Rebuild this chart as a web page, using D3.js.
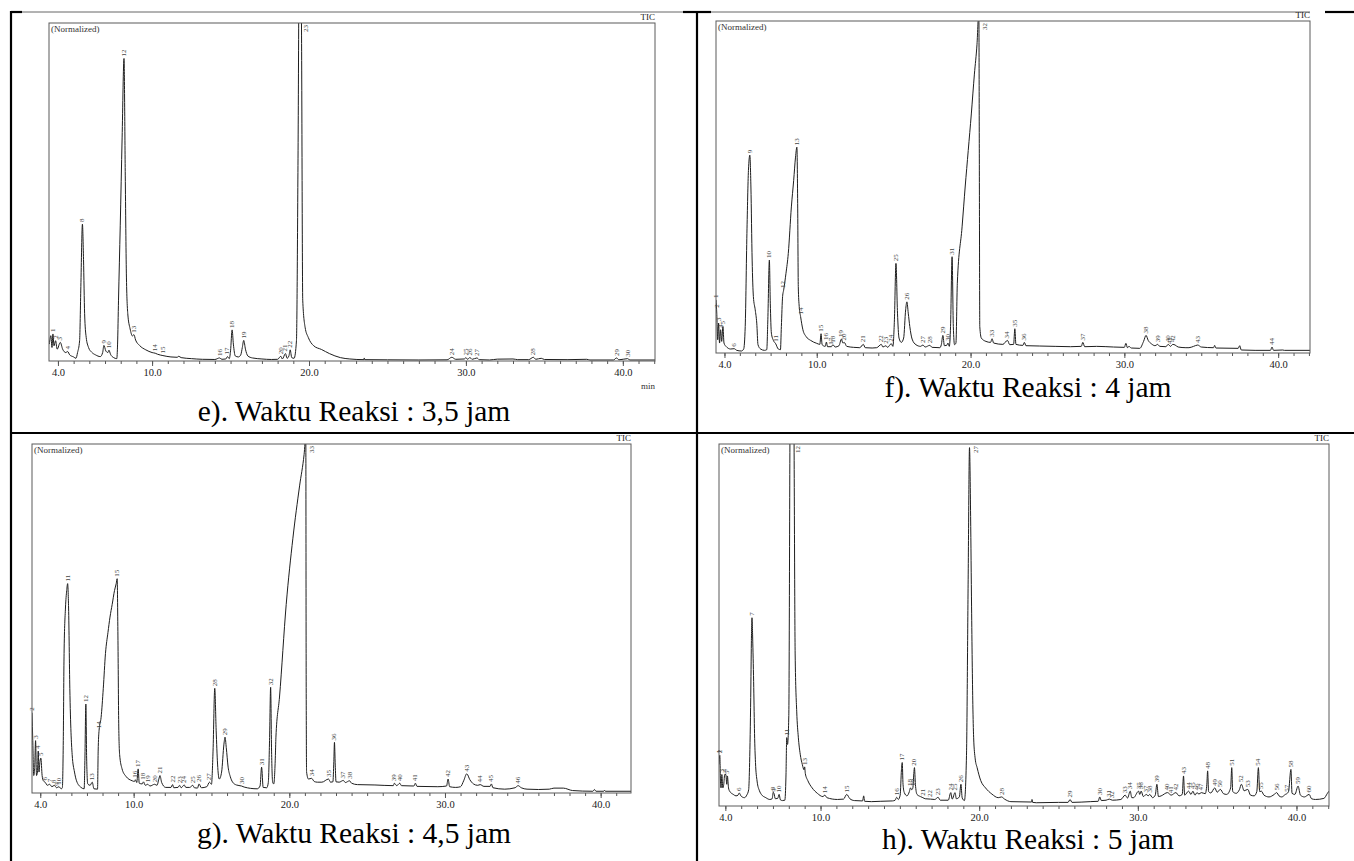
<!DOCTYPE html>
<html>
<head>
<meta charset="utf-8">
<script src="https://cdn.jsdelivr.net/npm/d3@7/dist/d3.min.js"></script>
<style>
body { margin: 0; background: #fff; }
text { font-family: "Liberation Serif", "Times New Roman", serif; }
</style>
</head>
<body>
<script>

// ---- data ----
var tickValues = [4, 10, 20, 30, 40];
var tickLabels = ["4.0", "10.0", "20.0", "30.0", "40.0"];
var captions = ["e). Waktu Reaksi : 3,5 jam", "f). Waktu Reaksi : 4 jam",
                "g). Waktu Reaksi : 4,5 jam", "h). Waktu Reaksi : 5 jam"];

// [retention time (min), normalized intensity %]
var traceE = [[3.45,5],[3.55,7.5],[3.62,4],[3.68,8],[3.75,4.5],[3.85,6],[3.95,3.5],[4.15,5.5],[4.3,3.5],[4.5,2.5],[4.62,2.8],[4.75,1.8],[5.0,1.2],[5.15,0.8],[5.25,2.5],[5.38,6],[5.46,22],[5.56,40.5],[5.63,30],[5.7,14],[5.8,7],[5.95,4],[6.15,2.6],[6.4,1.8],[6.7,1.3],[6.85,2.5],[6.93,4.6],[7.05,3],[7.18,2.5],[7.25,3.2],[7.35,2],[7.55,1],[7.75,0.7],[7.8,5],[7.86,18],[7.97,40],[8.09,66],[8.21,89.5],[8.29,55],[8.36,26],[8.45,14],[8.6,9.5],[8.75,7.4],[8.84,7.8],[8.95,6.2],[9.2,4.6],[9.6,3.3],[10.0,2.5],[10.2,2.3],[10.35,2.0],[10.69,1.6],[11.2,1.2],[11.6,1.1],[11.7,1.4],[11.85,1.0],[12.5,0.7],[13.2,0.5],[14.0,0.45],[14.3,0.9],[14.45,0.5],[14.7,0.6],[14.8,1.3],[14.92,0.7],[15.0,3],[15.1,9.2],[15.18,5],[15.3,1.5],[15.5,1.2],[15.65,1.8],[15.75,4],[15.84,6.1],[15.95,3.5],[16.1,1.5],[16.4,0.9],[17.0,0.6],[17.6,0.45],[18.0,0.5],[18.2,1.4],[18.3,0.6],[18.5,2.2],[18.6,0.8],[18.72,1.5],[18.8,3.3],[18.9,1.0],[19.05,0.8],[19.2,6],[19.3,60],[19.4,140],[19.52,100],[19.6,18],[19.75,10],[19.95,7],[20.3,4.5],[20.8,3.4],[21.3,2.2],[22.0,1.0],[22.6,0.6],[23.5,0.4],[23.52,0.9],[23.55,0.4],[25.0,0.35],[27.0,0.3],[28.8,0.35],[29.1,1.1],[29.35,0.5],[29.9,0.6],[30.0,1.0],[30.1,0.5],[30.25,1.0],[30.4,0.5],[30.7,0.9],[30.85,0.4],[31.5,0.3],[32.0,0.55],[33.0,0.6],[33.3,0.4],[34.0,0.4],[34.3,1.1],[34.45,0.5],[34.8,0.8],[35.0,0.45],[36.5,0.4],[37.7,0.5],[37.9,0.3],[39.4,0.3],[39.6,0.9],[39.75,0.35],[40.3,0.7],[40.45,0.3],[42.05,0.3]];

// [peak number, retention time, apex %]
var peaksE = [["1",3.68,8],["2",3.85,6],["3",4.15,5.5],["4",4.62,2.8],["8",5.56,40.5],["9",6.93,4.6],["10",7.25,3.2],["12",8.21,89.5],["13",8.84,7.8],["14",10.2,2.3],["15",10.69,1.6],["16",14.3,0.9],["17",14.8,1.3],["18",15.1,9.2],["19",15.84,6.1],["20",18.2,1.4],["21",18.5,2.2],["22",18.8,3.3],["23",19.4,140],["24",29.1,1.1],["25",30.0,1.0],["26",30.25,1.0],["27",30.7,0.9],["28",34.3,1.1],["29",39.6,0.9],["30",40.3,0.7]];

var traceF = [[3.45,16],[3.5,12],[3.56,4],[3.62,9],[3.68,3],[3.75,7],[3.82,3.5],[3.9,8],[3.97,3],[4.1,2],[4.4,1.2],[4.63,1.3],[4.8,0.8],[5.1,0.6],[5.25,1.2],[5.35,8],[5.46,36],[5.56,55],[5.65,59.6],[5.72,50],[5.8,28],[5.88,17],[6.0,13],[6.1,9],[6.18,2.5],[6.35,1.2],[6.6,0.8],[6.75,1.0],[6.82,10],[6.92,28],[6.98,15],[7.05,6],[7.18,3.8],[7.33,2.8],[7.5,1.2],[7.64,1.0],[7.7,8],[7.78,17],[7.85,19],[8.0,24],[8.15,30],[8.35,44],[8.5,52],[8.62,59],[8.71,62],[8.76,45],[8.8,20],[8.86,14],[8.95,11],[9.1,7],[9.3,5],[9.6,3.8],[10.0,2.9],[10.2,2.6],[10.28,5.8],[10.35,2.5],[10.55,2.0],[10.63,3.3],[10.7,1.9],[10.95,1.9],[11.05,2.5],[11.2,1.8],[11.45,2.2],[11.6,4.2],[11.7,3.0],[11.79,3.2],[11.95,2.0],[12.4,1.7],[12.8,1.6],[13.03,2.6],[13.15,1.6],[13.6,1.5],[13.9,1.6],[14.2,2.6],[14.3,1.8],[14.5,2.2],[14.6,1.7],[14.85,2.8],[14.95,2.0],[15.05,10],[15.15,27],[15.25,12],[15.35,4.5],[15.5,3.2],[15.65,4.5],[15.78,13],[15.86,15.4],[15.95,12],[16.05,8],[16.2,4.2],[16.45,2.5],[16.75,2.0],[16.9,2.4],[17.05,1.8],[17.35,2.3],[17.5,1.7],[18.0,1.6],[18.1,2.5],[18.2,5.3],[18.3,2.2],[18.45,2.3],[18.53,3.0],[18.62,2.0],[18.7,8],[18.8,29],[18.88,8],[18.96,2.5],[19.05,3],[19.14,21],[19.45,38],[19.65,50],[19.85,61],[20.05,72],[20.25,84],[20.42,93],[20.54,103],[20.57,60],[20.6,8],[20.7,4.5],[21.0,3.5],[21.3,3.2],[21.4,4.3],[21.5,3.0],[22.1,2.6],[22.4,3.8],[22.55,2.5],[22.8,2.6],[22.88,7.3],[22.95,2.6],[23.4,2.3],[23.5,3.2],[23.6,2.2],[24.5,2.1],[25.5,2.0],[26.5,1.9],[27.2,2.0],[27.3,3.2],[27.42,1.9],[28.2,2.0],[29.3,1.8],[30.0,1.7],[30.1,2.9],[30.2,1.6],[30.3,2.0],[30.45,1.5],[31.0,1.4],[31.25,3.5],[31.41,5.3],[31.55,3.8],[31.75,2.8],[32.0,2.2],[32.16,2.6],[32.3,2.0],[32.7,1.9],[32.85,2.6],[33.0,2.0],[33.15,2.6],[33.3,2.4],[33.5,1.8],[34.0,1.6],[34.2,1.6],[34.5,2.0],[34.77,2.4],[35.0,1.8],[35.8,1.6],[35.87,2.3],[35.95,1.5],[37.4,1.4],[37.5,2.2],[37.6,0.9],[38.5,0.8],[39.5,0.8],[39.6,1.8],[39.7,0.8],[40.3,0.9],[40.4,0.8],[42.07,0.8]];

var peaksF = [["1",3.46,16],["2",3.52,13],["3",3.62,9],["4",3.75,7],["5",3.9,8],["6",4.63,1.3],["9",5.65,59.6],["10",6.92,28],["11",7.33,2.8],["12",7.8,19],["13",8.71,62],["14",8.95,11],["15",10.28,5.8],["16",10.63,3.3],["17",10.95,1.9],["18",11.05,2.5],["19",11.6,4.2],["20",11.79,3.2],["21",13.03,2.6],["22",14.2,2.6],["23",14.5,2.2],["24",14.85,2.8],["25",15.15,27],["26",15.86,15.4],["27",16.9,2.4],["28",17.35,2.3],["29",18.2,5.3],["30",18.53,3.0],["31",18.8,29],["32",20.54,103],["33",21.4,4.3],["34",22.4,3.8],["35",22.88,7.3],["36",23.5,3.2],["37",27.3,3.2],["38",31.41,5.3],["39",32.16,2.6],["40",32.85,2.6],["41",33.0,2.0],["42",33.15,2.6],["43",34.77,2.4],["44",39.6,1.8]];

var traceG = [[3.47,23],[3.52,15],[3.58,5],[3.64,7],[3.7,15],[3.76,5],[3.82,6],[3.87,12],[3.92,6],[3.98,9],[4.04,10],[4.12,5],[4.2,3.5],[4.33,3.0],[4.45,2.2],[4.6,2.5],[4.75,1.8],[4.9,2.2],[5.05,1.5],[5.2,1.8],[5.35,1.2],[5.42,1.5],[5.48,15],[5.53,40],[5.62,53],[5.7,58],[5.76,60],[5.82,53],[5.9,30],[6.05,11],[6.2,6],[6.33,3.5],[6.62,1.6],[6.82,1.2],[6.87,10],[6.93,25.5],[6.98,10],[7.05,2.6],[7.2,2.2],[7.34,3.1],[7.45,1.2],[7.68,1.1],[7.72,12],[7.78,18],[7.91,21.7],[8.05,30],[8.19,40],[8.35,46],[8.48,50.4],[8.62,54],[8.77,58],[8.88,60],[8.94,61.4],[8.99,45],[9.04,20],[9.1,11],[9.25,7],[9.5,4.8],[9.91,3.5],[10.05,3.3],[10.11,3.8],[10.2,3.0],[10.29,6.9],[10.36,2.8],[10.55,2.6],[10.63,3.2],[10.75,2.2],[10.9,2.5],[11.05,2.0],[11.35,2.5],[11.5,2.2],[11.62,4],[11.69,5],[11.8,3],[12.06,1.6],[12.4,1.6],[12.5,2.4],[12.58,1.5],[12.85,1.6],[12.95,2.2],[13.05,1.5],[13.25,2.3],[13.35,1.6],[13.6,1.6],[13.8,2.2],[13.9,1.5],[14.1,1.4],[14.2,2.6],[14.35,1.5],[14.7,1.8],[14.87,3.1],[15.0,2.5],[15.1,12],[15.21,30],[15.3,18],[15.39,8.3],[15.5,4],[15.65,6],[15.8,14],[15.87,16],[15.95,13],[16.07,7.4],[16.2,4.8],[16.36,3.1],[16.6,2.3],[16.93,2.0],[17.1,1.7],[17.94,1.2],[18.12,2],[18.22,7.4],[18.32,1.6],[18.55,1.5],[18.65,3],[18.73,15],[18.8,30.3],[18.86,12],[18.93,3.1],[19.0,2.6],[19.1,10],[19.14,16],[19.37,27.5],[19.8,54],[20.23,73],[20.66,88],[20.95,97],[21.06,102],[21.08,40],[21.11,6],[21.23,4],[21.43,4.2],[21.6,3.3],[21.8,3.1],[22.09,3.1],[22.52,4.0],[22.65,3.1],[22.8,3.2],[22.86,9],[22.9,14.5],[22.95,8],[23.0,3.2],[23.2,3.1],[23.47,3.6],[23.6,3.0],[23.87,3.5],[24.0,2.8],[24.38,2.4],[25.5,2.3],[26.68,2.1],[26.75,2.8],[26.9,2.1],[27.1,2.8],[27.2,2.1],[28.0,2.0],[28.1,2.8],[28.2,1.9],[29.54,1.8],[30.1,2.0],[30.2,4],[30.3,1.8],[30.69,1.6],[31.0,1.8],[31.2,3.5],[31.4,5.5],[31.6,3.8],[31.83,2.6],[32.1,2.2],[32.26,2.4],[32.5,1.9],[32.9,1.9],[32.98,2.6],[33.08,1.5],[33.84,1.1],[34.5,1.5],[34.7,2.1],[34.9,1.5],[35.27,1.1],[36.0,1.0],[36.7,1.1],[37.0,1.4],[37.6,1.4],[38.2,0.7],[39.5,0.5],[39.6,1.0],[39.7,0.5],[40.2,0.5],[40.25,0.8],[40.3,0.5],[41.95,0.5]];

var peaksG = [["2",3.5,23],["3",3.7,15],["4",3.87,12],["5",4.04,10],["6",4.33,3.0],["7",4.6,2.5],["8",4.9,2.2],["9",5.05,1.5],["10",5.2,1.8],["11",5.76,60],["12",6.93,25.5],["13",7.34,3.1],["14",7.78,18],["15",8.94,61.4],["16",10.11,3.8],["17",10.29,6.9],["18",10.63,3.2],["19",10.9,2.5],["20",11.35,2.5],["21",11.69,5],["22",12.5,2.4],["23",12.95,2.2],["24",13.25,2.3],["25",13.8,2.2],["26",14.2,2.6],["27",14.87,3.1],["28",15.21,30],["29",15.87,16],["30",16.93,2.0],["31",18.22,7.4],["32",18.8,30.3],["33",21.06,102],["34",21.43,4.2],["35",22.52,4.0],["36",22.9,14.5],["37",23.47,3.6],["38",23.87,3.5],["39",26.75,2.8],["40",27.1,2.8],["41",28.1,2.8],["42",30.2,4],["43",31.4,5.5],["44",32.26,2.4],["45",32.98,2.6],["46",34.7,2.1]];

var traceH = [[3.6,11.5],[3.65,14],[3.7,6],[3.73,5],[3.78,8.7],[3.84,5],[3.9,6],[3.96,8.7],[4.03,8.7],[4.09,6],[4.13,8.3],[4.2,5],[4.27,4.1],[4.5,3.2],[4.67,2.8],[4.8,3.0],[4.88,3.6],[4.98,2.8],[5.2,2.3],[5.35,3.0],[5.47,4.5],[5.53,12],[5.6,30],[5.64,45],[5.68,52],[5.73,45],[5.79,32.7],[5.84,20],[5.9,12],[6.0,6.9],[6.15,4.2],[6.27,3.2],[6.55,2.3],[6.8,1.8],[6.95,2.0],[7.02,3.8],[7.07,3.4],[7.15,2.0],[7.3,2.1],[7.39,3.2],[7.47,1.7],[7.6,1.5],[7.75,1.6],[7.82,8],[7.87,18.9],[7.92,17],[8.0,25],[8.08,110],[8.2,160],[8.32,110],[8.4,42],[8.5,26],[8.6,19],[8.72,14.3],[8.85,11.5],[8.96,10],[9.0,10.8],[9.04,9.0],[9.2,7],[9.47,5],[9.8,3.5],[10.15,2.6],[10.27,3.0],[10.4,2.3],[11.07,1.8],[11.45,1.9],[11.65,3.2],[11.85,2.0],[12.13,1.5],[12.65,1.4],[12.72,2.8],[12.78,1.3],[13.2,1.2],[13.8,1.3],[14.53,1.4],[14.7,1.6],[14.8,2.4],[14.9,1.8],[15.02,3],[15.1,10],[15.15,12],[15.2,6],[15.28,3.7],[15.45,2.8],[15.6,4],[15.67,5],[15.75,4.5],[15.82,5],[15.88,9],[15.92,10.6],[15.98,6],[16.08,3.2],[16.3,2.6],[16.45,2.3],[16.6,2.0],[16.93,1.9],[17.2,1.8],[17.41,2.4],[17.55,1.6],[18.05,1.6],[18.21,3.7],[18.3,1.9],[18.48,3.7],[18.56,2.0],[18.75,2.5],[18.85,6],[18.93,2.2],[19.07,1.5],[19.2,14],[19.3,60],[19.39,99],[19.46,80],[19.52,55],[19.6,28],[19.65,19],[19.75,13],[19.87,10.6],[20.1,7],[20.4,5],[20.8,3.3],[21.2,2.3],[21.41,2.5],[21.6,1.9],[22.0,1.2],[23.3,1.1],[23.33,1.8],[23.37,1.0],[23.6,0.9],[25.0,1.0],[25.6,1.0],[25.73,1.8],[25.85,1.0],[27.0,1.2],[27.5,1.3],[27.6,2.5],[27.7,1.5],[28.0,1.6],[28.2,1.9],[28.4,1.6],[28.93,1.8],[29.2,3.0],[29.35,2.2],[29.52,4.1],[29.62,2.3],[29.73,2.3],[30.05,4.1],[30.12,3.2],[30.21,4.1],[30.35,2.6],[30.53,3.2],[30.65,2.8],[30.75,3.2],[30.93,2.3],[31.1,3],[31.2,6],[31.3,2.6],[31.47,2.8],[31.87,3.7],[32.1,3.0],[32.4,3.7],[32.6,2.8],[32.8,3.2],[32.88,8.3],[32.95,3.0],[33.2,4.1],[33.35,3.2],[33.47,4.1],[33.6,3.0],[33.73,3.7],[33.85,3.3],[34.0,3.7],[34.25,3.4],[34.35,6],[34.4,9.7],[34.46,4],[34.6,3.6],[34.85,5],[35.0,3.8],[35.2,4.6],[35.4,3.4],[35.6,3.2],[35.85,5],[35.92,10.6],[35.98,4],[36.2,3.5],[36.4,4.5],[36.53,6],[36.7,4.2],[36.93,4.6],[37.1,3.0],[37.33,2.8],[37.5,4],[37.6,10.6],[37.68,4],[37.79,4.1],[37.95,3.0],[38.27,2.5],[38.6,3.2],[38.75,3.7],[38.9,2.8],[39.07,2.5],[39.3,3.2],[39.39,3.4],[39.5,4],[39.65,10.1],[39.72,3.5],[39.9,3.2],[40.1,5.5],[40.25,3.0],[40.5,2.5],[40.8,3.2],[40.95,2.0],[41.2,1.8],[41.73,2.1],[41.95,3.5],[42.05,4.1]];

var peaksH = [["1",3.62,14],["2",3.68,14],["3",3.78,8.7],["4",3.96,8.7],["5",4.13,8.3],["6",4.88,3.6],["7",5.68,52],["8",7.0,3.8],["9",7.07,3.4],["10",7.39,3.2],["11",7.87,18.9],["12",8.2,160],["13",9.0,10.8],["14",10.27,3.0],["15",11.65,3.2],["16",14.8,2.4],["17",15.15,12],["18",15.67,5],["19",15.82,5],["20",15.92,10.6],["21",16.45,2.3],["22",16.93,1.9],["23",17.41,2.4],["24",18.21,3.7],["25",18.48,3.7],["26",18.85,6],["27",19.39,99],["28",21.41,2.5],["29",25.73,1.8],["30",27.6,2.5],["31",28.2,1.9],["32",28.4,1.6],["33",29.2,3.0],["34",29.52,4.1],["35",30.05,4.1],["36",30.21,4.1],["37",30.53,3.2],["38",30.75,3.2],["39",31.2,6],["40",31.87,3.7],["41",32.1,3.0],["42",32.4,3.7],["43",32.88,8.3],["44",33.2,4.1],["45",33.47,4.1],["46",33.73,3.7],["47",34.0,3.7],["48",34.4,9.7],["49",34.85,5],["50",35.2,4.6],["51",35.92,10.6],["52",36.53,6],["53",36.93,4.6],["54",37.6,10.6],["55",37.79,4.1],["56",38.75,3.7],["57",39.39,3.4],["58",39.65,10.1],["59",40.1,5.5],["60",40.8,3.2]];

// ---- layout ----
var W = 1354, H = 861;

var panels = [
  {trace: traceE, peaks: peaksE, caption: captions[0], dom: [3.43, 42.05],
   left: 49, right: 655, top: 23, bottom: 361, capX: 354, capY: 421, minLabel: true},
  {trace: traceF, peaks: peaksF, caption: captions[1], dom: [3.45, 42.07],
   left: 716, right: 1310, top: 21, bottom: 353, capX: 1028, capY: 397, minLabel: false},
  {trace: traceG, peaks: peaksG, caption: captions[2], dom: [3.47, 41.95],
   left: 32, right: 631, top: 444, bottom: 793, capX: 354, capY: 843, minLabel: false},
  {trace: traceH, peaks: peaksH, caption: captions[3], dom: [3.6, 42.05],
   left: 719, right: 1329, top: 444, bottom: 806, capX: 1028, capY: 849, minLabel: false}
];

var svg = d3.select("body").append("svg")
  .attr("width", W)
  .attr("height", H);

svg.append("rect").attr("width", W).attr("height", H).attr("fill", "#fff");

// table rules
var black = [[11, 12, 22, 12], [683, 12, 711, 12], [1325, 12, 1354, 12],
             [11, 433, 1354, 433], [11, 11, 11, 861], [697, 11, 697, 861]];
svg.selectAll("line.rule")
  .data(black)
  .enter()
  .append("line")
  .attr("class", "rule")
  .attr("x1", function(d) { return d[0]; })
  .attr("y1", function(d) { return d[1]; })
  .attr("x2", function(d) { return d[2]; })
  .attr("y2", function(d) { return d[3]; })
  .attr("stroke", "#000")
  .attr("stroke-width", 2.2);

// thin grey edge of the pasted pictures
[[22, 683], [711, 1310]].forEach(function(s) {
  svg.append("line")
    .attr("x1", s[0]).attr("x2", s[1])
    .attr("y1", 12).attr("y2", 12)
    .attr("stroke", "#666")
    .attr("stroke-width", 1);
});

panels.forEach(function(p, i) {

  var x = d3.scaleLinear().domain(p.dom).range([p.left, p.right]);
  var y = d3.scaleLinear().domain([0, 100]).range([p.bottom, p.top]);

  var g = svg.append("g");

  g.append("clipPath")
    .attr("id", "clip" + i)
    .append("rect")
    .attr("x", p.left)
    .attr("y", p.top)
    .attr("width", p.right - p.left)
    .attr("height", p.bottom - p.top);

  // minor ticks every minute, major at the labelled values
  var minor = d3.range(4, 43).filter(function(v) { return v <= p.dom[1]; });
  g.append("g")
    .attr("transform", "translate(0," + p.bottom + ")")
    .call(d3.axisBottom(x).tickValues(minor).tickSize(3).tickFormat(""))
    .call(function(a) { a.select(".domain").remove(); })
    .selectAll("line").attr("stroke", "#555");

  g.append("g")
    .attr("transform", "translate(0," + p.bottom + ")")
    .call(d3.axisBottom(x).tickValues(tickValues).tickSize(5).tickPadding(2)
      .tickFormat(function(d, k) { return tickLabels[k]; }))
    .call(function(a) { a.select(".domain").remove(); })
    .call(function(a) {
      a.selectAll("line").attr("stroke", "#555");
      a.selectAll("text")
        .attr("fill", "#222")
        .attr("font-size", 10.5)
        .attr("font-family", "Liberation Serif")
        .attr("dy", "0.75em");
    });

  var line = d3.line()
    .x(function(d) { return x(d[0]); })
    .y(function(d) { return y(d[1]); })
    .curve(d3.curveMonotoneX);

  g.append("path")
    .datum(p.trace)
    .attr("clip-path", "url(#clip" + i + ")")
    .attr("d", line)
    .attr("fill", "none")
    .attr("stroke", "#1e1e1e")
    .attr("stroke-width", 1);

  g.append("rect")
    .attr("x", p.left)
    .attr("y", p.top)
    .attr("width", p.right - p.left)
    .attr("height", p.bottom - p.top)
    .attr("fill", "none")
    .attr("stroke", "#5a5a5a")
    .attr("stroke-width", 1);

  // peak numbers, turned on their side
  g.selectAll("text.peak")
    .data(p.peaks)
    .enter()
    .append("text")
    .attr("class", "peak")
    .attr("font-size", 7)
    .attr("fill", "#444")
    .attr("dominant-baseline", "central")
    .attr("text-anchor", function(d) { return d[2] >= 95 ? "end" : "start"; })
    .attr("transform", function(d) {
      var px, py;
      if (d[2] >= 95) { px = x(d[1]) + 6; py = p.top + 2; }
      else { px = x(d[1]); py = y(d[2]) - 2; }
      return "translate(" + px + "," + py + ") rotate(-90)";
    })
    .text(function(d) { return d[0]; });

  g.append("text")
    .attr("x", p.left + 2)
    .attr("y", p.top + 9)
    .attr("font-size", 9)
    .attr("fill", "#333")
    .text("(Normalized)");

  g.append("text")
    .attr("x", p.right)
    .attr("y", p.top - 3)
    .attr("text-anchor", "end")
    .attr("font-size", 9)
    .attr("fill", "#222")
    .text("TIC");

  if (p.minLabel) {
    g.append("text")
      .attr("x", p.right - 7)
      .attr("y", p.bottom + 28)
      .attr("text-anchor", "middle")
      .attr("font-size", 9)
      .attr("fill", "#333")
      .text("min");
  }

  g.append("text")
    .attr("x", p.capX)
    .attr("y", p.capY)
    .attr("text-anchor", "middle")
    .attr("font-size", 29.5)
    .attr("fill", "#000")
    .text(p.caption);
});

</script>
</body>
</html>
